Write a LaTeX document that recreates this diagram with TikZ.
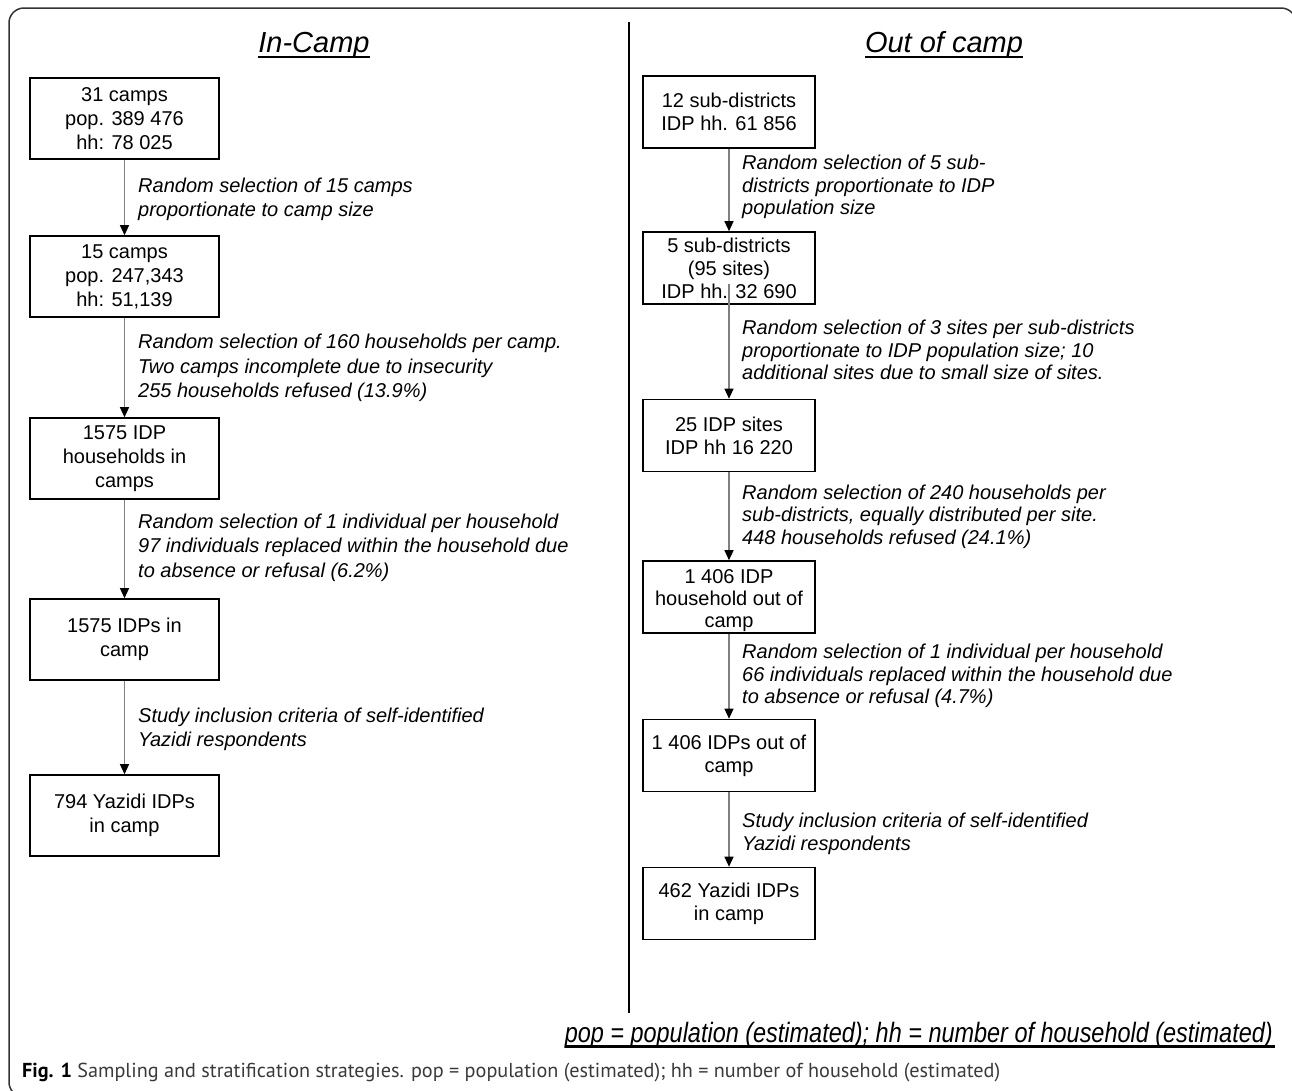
\documentclass[tikz,border=0pt]{standalone}
\usepackage{fontspec}
\usepackage{graphicx}
\setmainfont{Liberation Sans}
\newfontfamily\capfont{PT Sans}
\usetikzlibrary{arrows.meta}
\definecolor{arrowgray}{HTML}{808080}
\definecolor{framegray}{HTML}{333333}
\definecolor{capgray}{HTML}{3A3A3A}
\begin{document}
\begin{tikzpicture}[x=1pt,y=-1pt,
  box/.style={draw=black, line width=1.6pt, inner sep=0pt, align=center},
  lbox/.style={box, minimum width=189pt, minimum height=81pt, font=\fontsize{20}{24}\selectfont},
  rbox/.style={box, minimum width=172pt, minimum height=72pt, font=\fontsize{20}{23}\selectfont},
  lab/.style={anchor=west, inner sep=0pt, align=left, font=\fontsize{20}{24.5}\selectfont\itshape},
  rlab/.style={lab, font=\fontsize{20}{22.5}\selectfont\itshape},
  conn/.style={draw=arrowgray, line width=1.2pt, -{Triangle[length=10pt,width=9pt,color=black]}},
  title/.style={inner sep=0pt, anchor=base, font=\fontsize{29}{32}\selectfont\itshape},
  uline/.style={line width=2pt}
]
\useasboundingbox (0,0) rectangle (1292,1090);
\fill[white] (0,0) rectangle (1292,1090);

% outer frame
\draw[framegray, line width=1.5pt, rounded corners=15pt] (1296,60) -- (1296,8) -- (9,8) -- (9,1097) -- (60,1097);

% divider
\draw[black, line width=2pt] (629,22) -- (629,1013);

% titles
\node[title] (t1) at (314,52) {In-Camp};
\draw[uline] ([yshift=-5pt]t1.base west) -- ([yshift=-5pt]t1.base east);
\node[title] (t2) at (944,52) {Out of camp};
\draw[uline] ([yshift=-5pt]t2.base west) -- ([yshift=-5pt]t2.base east);

% left column
\node[lbox] (a1) at (124.5,118.5) {31 camps\\pop. 389 476\\hh: 78 025};
\node[lbox] (a2) at (124.5,276.5) {15 camps\\pop. 247,343\\hh: 51,139};
\node[lbox] (a3) at (124.5,458.5) {1575 IDP\\households in\\camps};
\node[lbox] (a4) at (124.5,639.5) {1575 IDPs in\\camp};
\node[lbox] (a5) at (124.5,815.5) {794 Yazidi IDPs\\in camp};

\draw[conn] (a1) -- (a2);
\draw[conn] (a2) -- (a3);
\draw[conn] (a3) -- (a4);
\draw[conn] (a4) -- (a5);

\node[lab] (la1) at (138,199.5) {Random selection of 15 camps\\proportionate to camp size};
\node[lab] (la2) at (138,368) {Random selection of 160 households per camp.\\Two camps incomplete due to insecurity\\255 households refused (13.9\%)};
\node[lab] (la3) at (138,547.5) {Random selection of 1 individual per household\\97 individuals replaced within the household due\\to absence or refusal (6.2\%)};
\node[lab] (la4) at (138,729.5) {Study inclusion criteria of self-identified\\Yazidi respondents};

% right column
\node[rbox] (b1) at (729,112) {12 sub-districts\\IDP hh. 61 856};
\node[rbox] (b2) at (729,268) {5 sub-districts\\(95 sites)\\IDP hh. 32 690};
\node[rbox] (b3) at (729,435.5) {25 IDP sites\\IDP hh 16 220};
\node[rbox, font=\fontsize{20}{22}\selectfont] (b4) at (729,597) {\rule{0pt}{22pt}1 406 IDP\\household out of\\camp};
\node[rbox] (b5) at (729,755.5) {1 406 IDPs out of\\camp};
\node[rbox] (b6) at (729,903.5) {462 Yazidi IDPs\\in camp};

\draw[conn] (b1) -- (b2);
\draw[conn] ([yshift=21pt]b2.south) -- (b3.north);
\draw[conn] (b3) -- (b4);
\draw[conn] (b4) -- (b5);
\draw[conn] (b5) -- (b6);

\node[rlab] (lb1) at (742,187) {Random selection of 5 sub-\\districts proportionate to IDP\\population size};
\node[rlab] (lb2) at (742,350) {Random selection of 3 sites per sub-districts\\proportionate to IDP population size; 10\\additional sites due to small size of sites.};
\node[rlab] (lb3) at (742,516.5) {Random selection of 240 households per\\sub-districts, equally distributed per site.\\448 households refused (24.1\%)};
\node[rlab] (lb4) at (742,676) {Random selection of 1 individual per household\\66 individuals replaced within the household due\\to absence or refusal (4.7\%)};
\node[rlab] (lb5) at (742,834) {Study inclusion criteria of self-identified\\Yazidi respondents};

% legend line
\node[anchor=base east, inner sep=0pt] (note) at (1273,1042) {\resizebox{708pt}{\height}{\fontsize{28}{30}\selectfont\itshape pop = population (estimated); hh = number of household (estimated)}};
\draw[line width=2.6pt] ([yshift=-4.5pt]note.base west) -- ([yshift=-4.5pt,xshift=2pt]note.base east);

% caption
\node[anchor=west, inner sep=0pt, text=capgray] (cap) at (22,1073) {\resizebox{978pt}{!}{\capfont\fontsize{17}{20}\selectfont\textcolor{black}{\textbf{Fig. 1}} Sampling and stratification strategies. pop = population (estimated); hh = number of household (estimated)}};
\end{tikzpicture}
\end{document}
